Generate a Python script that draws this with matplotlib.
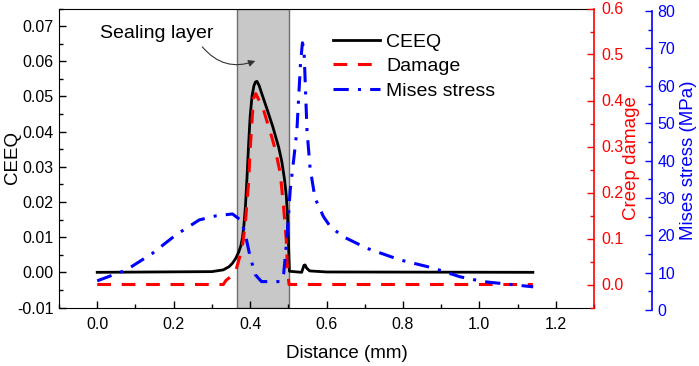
import matplotlib
matplotlib.use("Agg")
import matplotlib.pyplot as plt
from matplotlib.ticker import MultipleLocator, FormatStrFormatter

plt.rcParams['font.family'] = ['Liberation Sans', 'DejaVu Sans']

# ---- data ----
ceeq_x = [0.0, 0.30, 0.33, 0.345, 0.354, 0.362, 0.37, 0.376, 0.38, 0.384, 0.388, 0.392,
          0.396, 0.400, 0.405, 0.410, 0.414, 0.418, 0.424, 0.43, 0.445, 0.46, 0.475,
          0.483, 0.490, 0.495, 0.498, 0.500, 0.503, 0.535, 0.538, 0.541, 0.544,
          0.548, 0.556, 0.60, 1.14]
ceeq_y = [0.0, 0.0002, 0.0007, 0.0016, 0.0026, 0.0039, 0.0057, 0.0076, 0.0098, 0.0135,
          0.019, 0.027, 0.036, 0.044, 0.0500, 0.0530, 0.0541, 0.0543, 0.0530, 0.0510,
          0.0462, 0.0412, 0.0355, 0.0315, 0.0265, 0.0215, 0.016, 0.010, 0.0003, 0.0,
          0.0010, 0.0020, 0.0021, 0.0012, 0.0004, 0.0001, 0.0]

dmg_x = [0.0, 0.33, 0.337, 0.348, 0.363, 0.374, 0.381, 0.3875, 0.396, 0.40, 0.409, 0.415,
         0.435, 0.457, 0.466, 0.479, 0.4876, 0.4947, 0.498, 0.502, 1.14]
dmg_y = [0.0, 0.0, 0.009, 0.016, 0.031, 0.063, 0.090, 0.132, 0.22, 0.29, 0.405, 0.415,
         0.38, 0.32, 0.293, 0.242, 0.169, 0.097, 0.031, 0.0, 0.0]

mises_x = [0.0, 0.076, 0.145, 0.206, 0.267, 0.311, 0.354, 0.376, 0.387, 0.40, 0.414,
           0.43, 0.48, 0.488, 0.496, 0.505, 0.518, 0.5226, 0.532, 0.537, 0.541, 0.549,
           0.557, 0.570, 0.592, 0.61, 0.644, 0.706, 0.7925, 0.88, 0.949, 1.01, 1.141]
mises_y = [7.8, 10.7, 15.2, 20.1, 24.1, 25.2, 25.7, 24.0, 20.5, 14.3, 9.4,
           7.6, 7.6, 9.8, 18.7, 32.1, 43.7, 48.2, 66.0, 71.5, 70.0, 48.0,
           38.0, 29.9, 25.0, 22.3, 19.6, 16.5, 13.4, 11.2, 8.9, 7.6, 6.2]

seal_start, seal_end = 0.367, 0.502

# ---- figure ----
fig = plt.figure(figsize=(6.99, 3.66), dpi=100)
L, B, W, H = 59/699, 1-307.5/366, 535/699, (307.5-8.5)/366
ax = fig.add_axes([L, B, W, H])
ax2 = ax.twinx()
ax3 = fig.add_axes([L, 1-310/366, W, (310-11)/366])
ax3.patch.set_visible(False)

ax.axvspan(seal_start, seal_end, facecolor='#c8c8c8', edgecolor='#6e6e6e', linewidth=1.0, zorder=0)

l1, = ax.plot(ceeq_x, ceeq_y, color='black', lw=2.0, label='CEEQ', zorder=3)
l2, = ax2.plot(dmg_x, dmg_y, color='red', lw=2.2, ls=(0, (4.5, 3.5)), label='Damage', zorder=2)
l3, = ax3.plot(mises_x, mises_y, color='blue', lw=2.2, ls=(0, (5, 3, 1, 3)), label='Mises stress')

fs = 11.5
ax.set_xlim(-0.1, 1.3)
ax.set_ylim(-0.01, 0.075)
ax2.set_ylim(-0.05, 0.6)
ax3.set_xlim(-0.1, 1.3)
ax3.set_ylim(0, 80)

ax.xaxis.set_major_locator(MultipleLocator(0.2))
ax.xaxis.set_minor_locator(MultipleLocator(0.1))
ax.xaxis.set_major_formatter(FormatStrFormatter('%.1f'))
ax.yaxis.set_major_locator(MultipleLocator(0.01))
ax.yaxis.set_minor_locator(MultipleLocator(0.005))
ax.yaxis.set_major_formatter(FormatStrFormatter('%.2f'))
ax2.yaxis.set_major_locator(MultipleLocator(0.1))
ax2.yaxis.set_minor_locator(MultipleLocator(0.05))
ax2.yaxis.set_major_formatter(FormatStrFormatter('%.1f'))
ax3.yaxis.set_major_locator(MultipleLocator(10))
ax3.yaxis.set_minor_locator(MultipleLocator(5))

ax.tick_params(axis='both', which='major', direction='in', length=5, width=1, labelsize=fs)
ax.tick_params(axis='both', which='minor', direction='in', length=3, width=1)
ax.tick_params(axis='x', pad=7)
ax.tick_params(axis='y', pad=4)

ax2.tick_params(axis='y', which='major', direction='in', length=5, width=1, colors='red', labelsize=fs, pad=5)
ax2.tick_params(axis='y', which='minor', direction='in', length=3, width=1, colors='red')
for s in ['left', 'top', 'bottom']:
    ax2.spines[s].set_visible(False)
ax2.spines['right'].set_color('red')
ax2.spines['right'].set_linewidth(1.2)
ax.spines['right'].set_visible(False)

for s in ['left', 'top', 'bottom']:
    ax3.spines[s].set_visible(False)
ax3.spines['right'].set_position(('axes', (652-59)/535))
ax3.spines['right'].set_color('blue')
ax3.spines['right'].set_linewidth(1.2)
ax3.xaxis.set_visible(False)
ax3.yaxis.set_ticks_position('right')
ax3.yaxis.set_label_position('right')
ax3.tick_params(axis='y', which='major', direction='in', length=5, width=1, colors='blue', labelsize=fs, pad=4)
ax3.tick_params(axis='y', which='minor', direction='in', length=3, width=1, colors='blue')

ax.set_xlabel('Distance (mm)', fontsize=13.5)
ax.xaxis.set_label_coords((347-59)/535, -(353-307.5)/299)
ax.xaxis.label.set_va('center')
ax.set_ylabel('CEEQ', fontsize=13.5)
ax.yaxis.set_label_coords(-(59-12)/535, 0.5)
ax.yaxis.label.set_va('center')
ax2.set_ylabel('Creep damage', fontsize=13.5, color='red')
ax2.yaxis.set_label_coords((631-59)/535, 0.5)
ax2.yaxis.label.set_va('center')
ax3.set_ylabel('Mises stress (MPa)', fontsize=13.5, color='blue')
ax3.yaxis.set_label_coords((688-59)/535, (310-160)/299)
ax3.yaxis.label.set_va('center')

leg = ax.legend(handles=[l1, l2, l3], loc='upper left', bbox_to_anchor=((333-59)/535, 1-(33-8.5)/299),
                frameon=False, fontsize=14, handlelength=2.4, handletextpad=0.35,
                labelspacing=0.36, borderaxespad=0, borderpad=0)

ax.text(0.155, 0.068, 'Sealing layer', fontsize=14, ha='center', va='center')
ax.annotate('', xy=(0.4137, 0.0601), xytext=(0.275, 0.0641),
            arrowprops=dict(arrowstyle='-|>', color='#333333', lw=0.8, mutation_scale=10,
                            shrinkA=0, shrinkB=0, connectionstyle='arc3,rad=0.35'))

fig.savefig('out.png', dpi=100)
